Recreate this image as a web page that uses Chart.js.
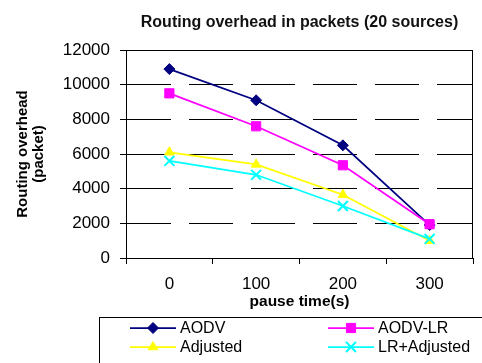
<!DOCTYPE html>
<html>
<head>
<meta charset="utf-8">
<script src="https://cdn.jsdelivr.net/npm/chart.js@4/dist/chart.umd.min.js"></script>
<style>
  html, body { margin: 0; padding: 0; background: #fff; }
  #wrap { width: 482px; height: 363px; }
</style>
</head>
<body>
<div id="wrap"><canvas id="c" width="482" height="363"></canvas></div>
<script>
// Routing overhead (packets) per pause time, 20 sources
const pauseTimes = ['0', '100', '200', '300'];
const aodv = [10900, 9100, 6500, 1900];
const aodvLr = [9500, 7600, 5350, 1950];
const adjusted = [6100, 5400, 3650, 1000];
const lrAdjusted = [5600, 4800, 3000, 1100];
const yTickValues = [0, 2000, 4000, 6000, 8000, 10000, 12000];
const seriesNames = ['AODV', 'AODV-LR', 'Adjusted', 'LR+Adjusted'];

const FONT = '"Liberation Sans", Arial, Helvetica, sans-serif';
Chart.defaults.font.family = FONT;
Chart.defaults.color = '#000';

// Solid frame around the plotting area
const plotFrame = {
  id: 'plotFrame',
  beforeDatasetsDraw(chart) {
    const { ctx, chartArea: a } = chart;
    ctx.save();
    ctx.strokeStyle = '#000';
    ctx.lineWidth = 1;
    const l = Math.round(a.left) + 0.5, t = Math.round(a.top) + 0.5;
    const r = Math.round(a.right) - 0.5, b = Math.round(a.bottom) + 0.5;
    ctx.strokeRect(l, t, r - l, b - t);
    ctx.restore();
  }
};

// Boxed two-column legend with line + marker samples
const boxLegend = {
  id: 'boxLegend',
  afterDraw(chart) {
    const ctx = chart.ctx;
    ctx.save();
    ctx.strokeStyle = '#000';
    ctx.lineWidth = 1;
    ctx.strokeRect(99.5, 317.5, 420, 80);
    const cols = [130, 328];
    const rows = [328, 347];
    chart.data.datasets.forEach((ds, i) => {
      const x = cols[i % 2], y = rows[Math.floor(i / 2)];
      ctx.strokeStyle = ds.borderColor;
      ctx.lineWidth = ds.borderWidth;
      ctx.setLineDash([]);
      ctx.beginPath();
      ctx.moveTo(x, y);
      ctx.lineTo(x + 46, y);
      ctx.stroke();
      ctx.fillStyle = ds.pointBackgroundColor;
      ctx.strokeStyle = ds.pointBorderColor;
      ctx.lineWidth = ds.pointBorderWidth;
      Chart.helpers.drawPoint(ctx, {
        pointStyle: ds.pointStyle,
        radius: ds.pointRadius,
        borderWidth: ds.pointBorderWidth,
        rotation: 0
      }, x + 23, y);
      ctx.fillStyle = '#000';
      ctx.font = '16px ' + FONT;
      ctx.textBaseline = 'middle';
      ctx.textAlign = 'left';
      ctx.fillText(ds.label, x + 50, y + 1);
    });
    ctx.restore();
  }
};

function series(label, data, color, style, radius, bw, order) {
  return {
    label, data, order,
    borderColor: color,
    borderWidth: 1.75,
    backgroundColor: color,
    pointStyle: style,
    pointRadius: radius,
    pointHoverRadius: radius,
    pointBackgroundColor: color,
    pointBorderColor: color,
    pointBorderWidth: bw,
    tension: 0,
    fill: false
  };
}

new Chart(document.getElementById('c'), {
  type: 'line',
  data: {
    labels: pauseTimes,
    datasets: [
      series(seriesNames[0], aodv, '#000080', 'rectRot', 5.5, 1, 4),
      series(seriesNames[1], aodvLr, '#FF00FF', 'rect', 6.5, 1, 3),
      series(seriesNames[2], adjusted, '#FFFF00', 'triangle', 5.5, 1, 2),
      series(seriesNames[3], lrAdjusted, '#00FFFF', 'crossRot', 7, 2, 1)
    ]
  },
  options: {
    responsive: false,
    animation: false,
    events: [],
    layout: { padding: { left: 0, right: 2, top: 0, bottom: 45 } },
    plugins: {
      legend: { display: false },
      tooltip: { enabled: false },
      title: {
        display: true,
        fullSize: false,
        text: 'Routing overhead in packets (20 sources)',
        color: '#111',
        font: { size: 16, weight: 'bold', lineHeight: 1.2 },
        padding: { top: 13, bottom: 17.8 }
      }
    },
    scales: {
      x: {
        type: 'category',
        offset: true,
        grid: {
          offset: true,
          drawOnChartArea: false,
          drawTicks: true,
          tickLength: 6,
          color: '#000',
          tickColor: '#000'
        },
        border: { color: '#000', width: 1 },
        ticks: { font: { size: 17 }, color: '#000', padding: 10, maxRotation: 0 },
        title: {
          display: true,
          text: 'pause time(s)',
          color: '#000',
          font: { size: 15.5, weight: 'bold', lineHeight: 1.2 },
          padding: { top: 0, bottom: 7 }
        },
        afterFit(s) { s.height = 60; }
      },
      y: {
        min: 0,
        max: 12000,
        afterBuildTicks(s) { s.ticks = yTickValues.map(v => ({ value: v })); },
        ticks: { font: { size: 17 }, color: '#000', padding: 10, callback: v => String(v) },
        grid: { color: '#000', lineWidth: 1, tickLength: 6, tickColor: '#000' },
        border: { color: '#000', width: 1, dash: [44, 18] },
        title: {
          display: true,
          text: ['Routing overhead', '(packet)'],
          color: '#000',
          font: { size: 15, weight: 'bold', lineHeight: 1.05 },
          padding: { top: 15, bottom: 0 }
        },
        afterFit(s) { s.width = 126; }
      }
    }
  },
  plugins: [plotFrame, boxLegend]
});
</script>
</body>
</html>
